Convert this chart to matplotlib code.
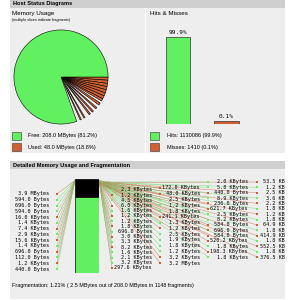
import matplotlib
matplotlib.use('Agg')
import matplotlib.pyplot as plt
import numpy as np
from matplotlib.patches import Rectangle
from matplotlib.transforms import Bbox, TransformedBbox

W, H = 308, 300

# --- donnees ---
mem_free_mb = 208.0
mem_used_mb = 48.0
free_slice_label = "205.5 MBytes"
# tranches du camembert, sens horaire depuis 3h (u = utilise, g = trou non dessine, f = libre)
pie_slices_mb = [2.8, 2.8, 2.8, 2.8, 2.8, 2.8, 2.8, 2.1, 2.1, 2.1, 2.8, 1.4, 2.8,
                 1.4, 2.1, 1.4, 4.3, 1.1, 2.5, 1.1, 3.2, 205.5]
pie_kinds = "uuuuuuuugugugugugugugf"

hm_names = ["Hits", "Misses"]
hm_counts = [1130086, 1410]
hm_pct = [99.9, 0.1]

frag_pct = 1.21
frag_mb = 2.5
frag_count = 1148

col_a = ["3.9 MBytes", "594.0 Bytes", "696.0 Bytes", "594.0 Bytes", "16.0 KBytes",
         "1.4 KBytes", "7.4 KBytes", "2.9 KBytes", "15.6 KBytes", "1.4 KBytes",
         "696.0 Bytes", "112.0 Bytes", "1.2 KBytes", "440.0 Bytes"]
kinds_a = "ufffufufufufuf"
col_b = ["2.3 KBytes", "1.2 KBytes", "4.5 KBytes", "6.0 KBytes", "1.6 KBytes",
         "1.2 KBytes", "1.2 KBytes", "1.8 KBytes", "696.0 Bytes", "3.0 KBytes",
         "3.3 KBytes", "8.2 KBytes", "1.6 KBytes", "2.1 KBytes", "3.2 KBytes",
         "297.6 KBytes"]
kinds_b = "fufufufufufufffu"
col_c = ["172.0 KBytes", "48.0 KBytes", "2.5 KBytes", "1.2 KBytes", "1.8 KBytes",
         "241.1 KBytes", "1.3 KBytes", "1.2 KBytes", "2.5 KBytes", "1.9 KBytes",
         "1.8 KBytes", "1.2 KBytes", "3.2 KBytes", "3.2 MBytes"]
kinds_c = "uufffufuffffuu"
col_d = ["2.0 KBytes", "5.8 KBytes", "440.0 Bytes", "8.9 KBytes", "236.0 Bytes",
         "621.7 KBytes", "2.5 KBytes", "8.2 KBytes", "584.0 Bytes", "696.0 Bytes",
         "584.0 Bytes", "520.2 KBytes", "1.8 KBytes", "198.3 KBytes", "1.8 KBytes"]
kinds_d = "ffufuuffuuuufuf"
col_e = ["53.5 KBytes", "1.2 KBytes", "2.5 KBytes", "3.6 KBytes", "2.2 KBytes",
         "1.8 KBytes", "1.2 KBytes", "1.8 KBytes", "64.9 KBytes", "1.8 KBytes",
         "414.9 KBytes", "1.8 KBytes", "552.5 KBytes", "1.8 KBytes", "376.5 KBytes"]
kinds_e = "ufufufufufufufu"

GREEN = '#60f060'
BROWN = '#d06030'
HEAD = '#cfcfcf'
BODY = '#eeeeee'
SANS = 'Liberation Sans'
MONO = 'DejaVu Sans Mono'

fig = plt.figure(figsize=(W / 100, H / 100), dpi=100)
fig.patch.set_facecolor('white')


def px_axes(x0, y0, w, h):
    return fig.add_axes([x0 / W, 1 - (y0 + h) / H, w / W, h / H])


bg = fig.add_axes([0, 0, 1, 1])
bg.set_xlim(0, W)
bg.set_ylim(H, 0)
bg.axis('off')

# panneaux
bg.add_patch(Rectangle((10, -2), 275, 10, color=HEAD, lw=0))
bg.add_patch(Rectangle((10, 8), 135, 145, color=BODY, lw=0))
bg.add_patch(Rectangle((146, 8), 139, 145, color=BODY, lw=0))
bg.add_patch(Rectangle((10, 161), 275, 8, color=HEAD, lw=0))
bg.add_patch(Rectangle((10, 169), 275, 130, color=BODY, lw=0))
clip = TransformedBbox(Bbox([[10, 169], [285, 299]]), bg.transData)

bg.text(13, 3.5, "Host Status Diagrams", fontsize=4.1, fontweight='bold', family=SANS, va='center')
bg.text(13, 165, "Detailed Memory Usage and Fragmentation", fontsize=4.1, fontweight='bold',
        family=SANS, va='center')
bg.text(12, 13.5, "Memory Usage", fontsize=4.5, family=SANS, va='center')
bg.text(12, 20, "(multiple slices indicate fragments)", fontsize=2.7, family=SANS, va='center')
bg.text(150, 13.5, "Hits & Misses", fontsize=4.5, family=SANS, va='center')

# legendes
bg.add_patch(Rectangle((12, 132), 9, 8, facecolor=GREEN, edgecolor='#333333', lw=0.4))
bg.add_patch(Rectangle((12, 143), 9, 8, facecolor=BROWN, edgecolor='#333333', lw=0.4))
tot = mem_free_mb + mem_used_mb
bg.text(28, 136, f"Free: {mem_free_mb:.1f} MBytes ({mem_free_mb / tot * 100:.1f}%)",
        fontsize=4, family=SANS, va='center')
bg.text(28, 147, f"Used: {mem_used_mb:.1f} MBytes ({mem_used_mb / tot * 100:.1f}%)",
        fontsize=4, family=SANS, va='center')
bg.add_patch(Rectangle((150, 132), 9, 8, facecolor=GREEN, edgecolor='#333333', lw=0.4))
bg.add_patch(Rectangle((150, 143), 9, 8, facecolor=BROWN, edgecolor='#333333', lw=0.4))
for i, yy in enumerate([136, 147]):
    bg.text(167, yy, f"{hm_names[i]}: {hm_counts[i]} ({hm_pct[i]}%)",
            fontsize=4, family=SANS, va='center')

# camembert
ax_pie = px_axes(13, 29, 96, 96)
cols = [GREEN if k == 'f' else BROWN if k == 'u' else 'none' for k in pie_kinds]
wedges, _ = ax_pie.pie(pie_slices_mb, colors=cols, startangle=0, counterclock=False,
                       wedgeprops=dict(edgecolor='black', linewidth=0.4))
for w, k in zip(wedges, pie_kinds):
    if k == 'g':
        w.set_edgecolor('none')
ax_pie.set_xlim(-1.02, 1.02)
ax_pie.set_ylim(-1.02, 1.02)
bg.text(63, 66, free_slice_label, fontsize=4.8, family=MONO, ha='center', va='center')

# hits & misses
ax_hm = px_axes(150, 20, 130, 104)
shown = np.maximum(hm_pct, 3.0)
ax_hm.bar([0, 1], shown, width=0.5, color=[GREEN, BROWN], edgecolor='#333333', linewidth=0.5)
ax_hm.set_xlim(-0.577, 2.103)
ax_hm.set_ylim(0, 119.4)
for i, v in enumerate(hm_pct):
    ax_hm.text(i, shown[i] + 2.5, f"{v}%", fontsize=4.4, family=MONO, ha='center', va='bottom')
ax_hm.axis('off')

# barre de fragmentation
ax_fr = px_axes(75, 179, 24, 94)
ax_fr.bar(0, mem_used_mb, bottom=0, width=1, color='black', edgecolor='black', linewidth=0.5)
ax_fr.bar(0, mem_free_mb, bottom=mem_used_mb, width=1, color=GREEN, edgecolor='black', linewidth=0.5)
ax_fr.set_xlim(-0.5, 0.5)
ax_fr.set_ylim(tot, 0)
ax_fr.axis('off')


def to_mb(s):
    v, u = s.split()
    return float(v) * {'Bytes': 1 / 1024 ** 2, 'KBytes': 1 / 1024, 'MBytes': 1}[u]


to_px = ax_fr.transData + bg.transData.inverted()

# (labels, types, x du carre, y premier, y dernier, cote)
columns = [
    (col_a, kinds_a, 57, 194, 269, 'left'),
    (col_b, kinds_b, 112, 190, 268, 'right'),
    (col_c, kinds_c, 160, 188, 263, 'right'),
    (col_d, kinds_d, 208, 182, 257, 'right'),
    (col_e, kinds_e, 257, 182, 257, 'right'),
]
offset = 0.0
for labels, kinds, sx, y0, y1, side in columns:
    ys = np.linspace(y0, y1, len(labels))
    for lab, k, sy in zip(labels, kinds, ys):
        offset += to_mb(lab)
        ex = -0.5 if side == 'left' else 0.5
        axp, ayp = to_px.transform((ex, offset))
        lc = '#78d878' if k == 'f' else '#c8704c'
        bg.plot([sx, axp], [sy, ayp], color=lc, lw=0.35, alpha=0.85, zorder=2)
        bg.scatter([sx], [sy], marker='s', s=3.2, color=GREEN if k == 'f' else BROWN,
                   linewidths=0, zorder=3)
        if side == 'left':
            t = bg.text(sx - 8, sy, lab, fontsize=3.7, family=MONO, ha='right', va='center', zorder=4)
        else:
            t = bg.text(sx + 40, sy, lab, fontsize=3.7, family=MONO, ha='right', va='center', zorder=4)
        t.set_clip_on(True)
        t.set_clip_box(clip)

bg.text(12, 285, f"Fragmentation: {frag_pct}% ( {frag_mb} MBytes out of {mem_free_mb:.1f} MBytes "
        f"in {frag_count} fragments)", fontsize=3.9, family=SANS, va='center')

fig.savefig('out.png', dpi=100)
